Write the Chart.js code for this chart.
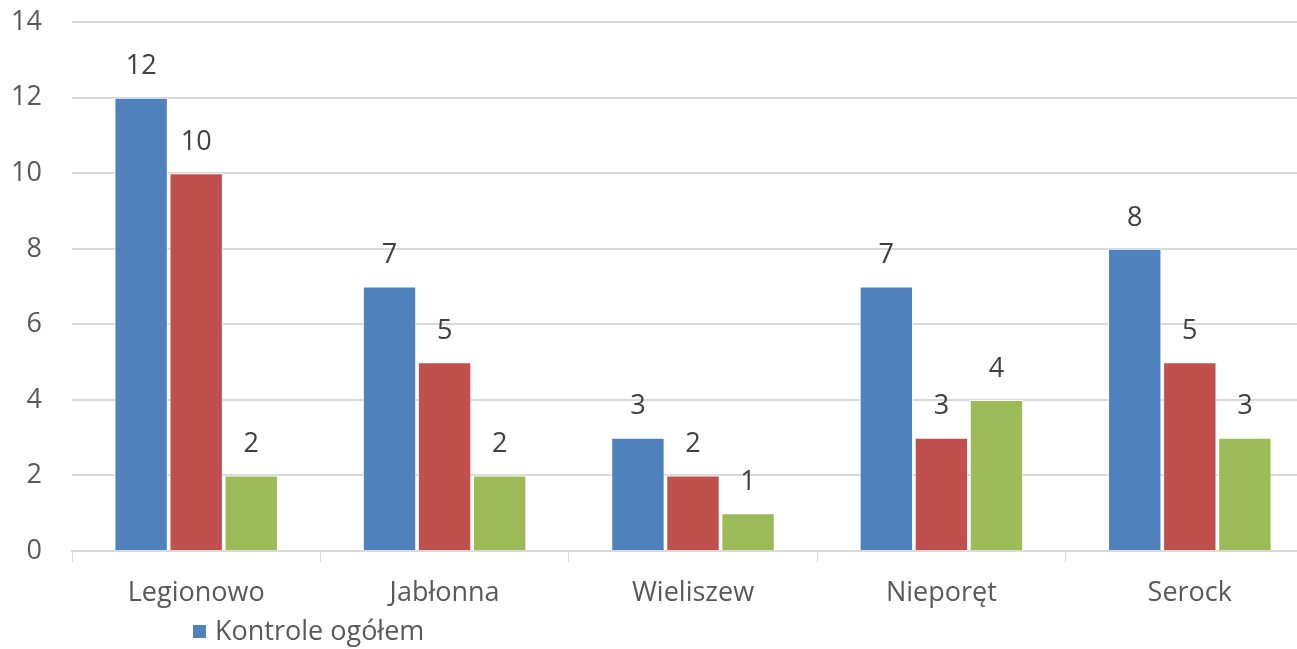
<!DOCTYPE html>
<html lang="pl">
<head>
<meta charset="utf-8">
<title>Kontrole</title>
<script src="https://cdn.jsdelivr.net/npm/chart.js@4.4.1/dist/chart.umd.min.js"></script>
<style>
    html, body { margin: 0; padding: 0; background: #fff; overflow: hidden; }
    #wrap { position: relative; width: 1314px; height: 649px; }
</style>
</head>
<body>
<div id="wrap"><canvas id="chart"></canvas></div>
<script>
const gminy = ['Legionowo', 'Jabłonna', 'Wieliszew', 'Nieporęt', 'Serock'];
const kontroleOgolem = [12, 7, 3, 7, 8];
const seria2 = [10, 5, 2, 3, 5];
const seria3 = [2, 2, 1, 4, 3];
const seriesNames = ['Kontrole ogółem', 'Seria 2', 'Seria 3'];
const seriesColors = ['#4F81BD', '#C0504D', '#9BBB59'];

const FONT = '"Open Sans", "DejaVu Sans", sans-serif';
const SIZE = 27;

// value labels above bars
const barLabels = {
    id: 'barLabels',
    afterDatasetsDraw(chart) {
        const ctx = chart.ctx;
        ctx.save();
        ctx.font = `${SIZE}px ${FONT}`;
        ctx.fillStyle = '#404040';
        ctx.textAlign = 'center';
        ctx.textBaseline = 'middle';
        chart.data.datasets.forEach((ds, i) => {
            chart.getDatasetMeta(i).data.forEach((bar, j) => {
                ctx.fillText(String(ds.data[j]), bar.x, bar.y - 31);
            });
        });
        ctx.restore();
    }
};

// legend with only the first entry, like the cropped original
const firstLegend = {
    id: 'firstLegend',
    afterDraw(chart) {
        const ctx = chart.ctx;
        const x = chart.chartArea.left + 121;
        const y = 632;
        ctx.save();
        ctx.fillStyle = seriesColors[0];
        ctx.fillRect(x, y - 7, 13, 13);
        ctx.font = `${SIZE}px ${FONT}`;
        ctx.fillStyle = '#595959';
        ctx.textAlign = 'left';
        ctx.textBaseline = 'middle';
        ctx.fillText(seriesNames[0], x + 22, y);
        ctx.restore();
    }
};

new Chart(document.getElementById('chart'), {
    type: 'bar',
    data: {
        labels: gminy,
        datasets: [kontroleOgolem, seria2, seria3].map((values, i) => ({
            label: seriesNames[i],
            data: values,
            backgroundColor: seriesColors[i],
            borderColor: '#ffffff',
            borderWidth: 1,
            categoryPercentage: 0.665,
            barPercentage: 0.97
        }))
    },
    options: {
        responsive: true,
        maintainAspectRatio: false,
        animation: false,
        layout: { padding: { top: 0, bottom: 38, left: 0, right: 0 } },
        plugins: {
            legend: { display: false },
            tooltip: { enabled: false }
        },
        scales: {
            x: {
                grid: {
                    offset: true,
                    drawOnChartArea: false,
                    drawTicks: true,
                    tickLength: 11,
                    color: '#D9D9D9'
                },
                border: { color: '#D9D9D9', width: 2 },
                ticks: {
                    color: '#595959',
                    font: { family: FONT, size: SIZE },
                    padding: 15
                },
                afterFit(scale) { scale.height = 60; }
            },
            y: {
                min: 0,
                max: 14,
                ticks: {
                    stepSize: 2,
                    color: '#595959',
                    font: { family: FONT, size: SIZE },
                    padding: 6
                },
                grid: {
                    color: '#D9D9D9',
                    lineWidth: 2,
                    drawTicks: true,
                    tickLength: 24,
                    tickColor: 'rgba(0,0,0,0)'
                },
                border: { display: false },
                afterFit(scale) { scale.width = 72; }
            }
        }
    },
    plugins: [barLabels, firstLegend]
});
</script>
</body>
</html>
